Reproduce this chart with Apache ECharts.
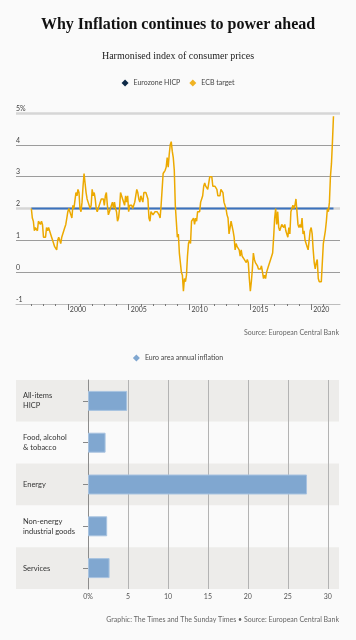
<!DOCTYPE html>
<html>
<head>
<meta charset="utf-8">
<script src="https://cdn.jsdelivr.net/npm/echarts@6/dist/echarts.min.js"></script>
<style>
html,body{margin:0;padding:0;background:#fafafa;}
#c{width:356px;height:640px;}
</style>
</head>
<body>
<div id="c"></div>
<script>
// ---- Data ----
const firstYear = 1997; // monthly values start January 1997
const hicpMonthly = [
  2.0,1.7,1.6,1.3,1.4,1.4,1.3,1.6,1.6,1.5,1.6,1.5,     // 1997
  1.1,1.1,1.1,1.4,1.3,1.4,1.3,1.2,1.1,1.0,0.9,0.8,     // 1998
  0.8,0.7,1.0,1.1,1.0,0.9,1.1,1.2,1.2,1.4,1.5,1.7,     // 1999
  1.9,2.0,2.0,1.8,1.7,2.1,2.0,2.0,2.5,2.4,2.6,2.5,     // 2000
  2.0,1.9,2.2,2.7,3.1,2.8,2.5,2.3,2.2,2.2,2.0,2.1,     // 2001
  2.6,2.4,2.5,2.3,2.0,1.9,1.9,2.1,2.1,2.3,2.3,2.3,     // 2002
  2.1,2.4,2.5,2.1,1.8,1.9,1.9,2.1,2.2,2.0,2.2,2.0,     // 2003
  1.9,1.6,1.7,2.0,2.5,2.4,2.3,2.3,2.1,2.4,2.2,2.4,     // 2004
  1.9,2.1,2.1,2.1,2.0,2.1,2.2,2.2,2.6,2.5,2.3,2.2,     // 2005
  2.4,2.3,2.2,2.5,2.5,2.5,2.4,2.3,1.7,1.6,1.9,1.9,     // 2006
  1.8,1.8,1.9,1.9,1.9,1.9,1.8,1.7,2.1,2.6,3.1,3.1,     // 2007
  3.2,3.3,3.6,3.3,3.7,4.0,4.1,3.8,3.6,3.2,2.1,1.6,     // 2008
  1.1,1.2,0.6,0.6,0.0,-0.1,-0.6,-0.2,-0.3,-0.1,0.5,0.9,// 2009
  1.0,0.9,1.6,1.6,1.7,1.5,1.7,1.6,1.9,1.9,1.9,2.2,     // 2010
  2.3,2.4,2.7,2.8,2.7,2.7,2.6,2.6,3.0,3.0,3.0,2.7,     // 2011
  2.7,2.7,2.7,2.6,2.4,2.4,2.4,2.6,2.6,2.5,2.2,2.2,     // 2012
  2.0,1.8,1.7,1.2,1.4,1.6,1.6,1.3,1.1,0.7,0.9,0.8,     // 2013
  0.8,0.7,0.5,0.7,0.5,0.5,0.4,0.4,0.3,0.4,0.3,-0.2,    // 2014
  -0.6,-0.3,0.1,0.6,0.4,0.3,0.3,0.2,0.1,0.1,0.1,0.2,   // 2015
  0.0,-0.2,-0.1,-0.2,0.0,0.1,0.2,0.2,0.4,0.5,0.6,1.1,  // 2016
  1.7,2.0,1.5,1.9,1.4,1.3,1.3,1.5,1.5,1.4,1.5,1.3,     // 2017
  1.3,1.1,1.4,1.2,1.9,2.0,2.1,2.0,2.1,2.3,1.9,1.5,     // 2018
  1.4,1.5,1.4,1.7,1.2,1.3,1.0,1.0,0.8,0.7,1.0,1.3,     // 2019
  1.4,1.2,0.7,0.3,0.1,0.3,0.4,-0.2,-0.3,-0.3,-0.3,-0.3,// 2020
  0.9,0.9,1.3,1.6,2.0,1.9,2.2,3.0,3.4,4.1,4.9          // 2021 (to Nov)
];
const ecbTarget = 2;
const lineYTicks = [-1, 0, 1, 2, 3, 4, 5];
const yearMinorTicks = [1997,1998,1999,2000,2001,2002,2003,2004,2005,2006,2007,2008,2009,2010,2011,2012,2013,2014,2015,2016,2017,2018,2019,2020,2021];
const yearLabels = [2000, 2005, 2010, 2015, 2020];

const barCategories = ['All-items\nHICP', 'Food, alcohol\n& tobacco', 'Energy', 'Non-energy\nindustrial goods', 'Services'];
const barValues = [4.9, 2.2, 27.4, 2.4, 2.7];
const barTicks = [0, 5, 10, 15, 20, 25, 30];

// ---- Derived series data ----
const hicpData = hicpMonthly.map((v, i) => [firstYear + i / 12, v]);
const lastX = firstYear + (hicpMonthly.length - 1) / 12;
const targetData = [[firstYear, ecbTarget], [lastX, ecbTarget]];

const sans = 'Lato, "Open Sans", sans-serif';
const serif = '"Liberation Serif", "DejaVu Serif", serif';
const xMin = 1995.74, xMax = 2022.37;

const chart = echarts.init(document.getElementById('c'), null, {renderer: 'canvas'});
chart.setOption({
  backgroundColor: '#fafafa',
  animation: false,
  title: [
    {text: 'Why Inflation continues to power ahead', left: 'center', top: 17, padding: 0,
     textStyle: {fontFamily: serif, fontWeight: 'bold', fontSize: 16, color: '#111'}},
    {text: 'Harmonised index of consumer prices', left: 'center', top: 51, padding: 0,
     textStyle: {fontFamily: serif, fontWeight: 'normal', fontSize: 10, color: '#222'}},
    {text: 'Source: European Central Bank', right: 17, top: 329, padding: 0,
     textStyle: {fontFamily: sans, fontWeight: 'normal', fontSize: 7, color: '#666'}},
    {text: 'Graphic: The Times and The Sunday Times • Source: European Central Bank', right: 17, top: 616, padding: 0,
     textStyle: {fontFamily: sans, fontWeight: 'normal', fontSize: 7, color: '#666'}}
  ],
  legend: [
    {top: 79.5, left: 'center', padding: 0, icon: 'diamond', itemWidth: 7, itemHeight: 7, itemGap: 9,
     textStyle: {fontFamily: sans, fontSize: 7, color: '#444'},
     data: [{name: 'Eurozone HICP', itemStyle: {color: '#0e2a47', borderWidth: 0}},
            {name: 'ECB target', itemStyle: {color: '#f0b323', borderWidth: 0}}]},
    {top: 354.5, left: 'center', padding: 0, icon: 'diamond', itemWidth: 7, itemHeight: 7,
     textStyle: {fontFamily: sans, fontSize: 7, color: '#444'},
     data: [{name: 'Euro area annual inflation', itemStyle: {color: '#80a7d0', borderWidth: 0}}]}
  ],
  grid: [
    {left: 16, right: 16, top: 113, height: 191},
    {left: 88, right: 17, top: 380, height: 209},
    {left: 16, right: 17, top: 380, height: 209}
  ],
  xAxis: [
    {gridIndex: 0, type: 'value', min: xMin, max: xMax, position: 'bottom',
     axisLine: {show: true, onZero: false, lineStyle: {color: '#bdbdbd', width: 1}},
     axisTick: {show: true, customValues: yearMinorTicks, length: 2, lineStyle: {color: '#777'}},
     axisLabel: {show: false}, splitLine: {show: false}},
    {gridIndex: 0, type: 'value', min: xMin, max: xMax, position: 'bottom',
     axisLine: {show: false, onZero: false},
     axisTick: {show: true, customValues: yearLabels, length: 6, lineStyle: {color: '#777'}},
     axisLabel: {show: true, customValues: yearLabels, align: 'left', margin: 2, padding: [0, 0, 0, 2],
                 fontFamily: sans, fontSize: 7, color: '#444', formatter: v => String(v)},
     splitLine: {show: false}},
    {gridIndex: 1, type: 'value', min: 0, max: 31.4, interval: 5, z: 1,
     axisLine: {show: false}, axisTick: {show: false},
     axisLabel: {show: true, customValues: barTicks, margin: 4, fontFamily: sans, fontSize: 7, color: '#555',
                 formatter: v => v === 0 ? '0%' : String(v)},
     splitLine: {show: true, showMinLine: false, showMaxLine: false, lineStyle: {color: '#b3b3b3', width: 1}}},
    {gridIndex: 2, type: 'value', min: 0, max: 1, show: true,
     axisLine: {show: false}, axisTick: {show: false}, axisLabel: {show: false}, splitLine: {show: false}}
  ],
  yAxis: [
    {gridIndex: 0, type: 'value', min: lineYTicks[0], max: lineYTicks[lineYTicks.length - 1], interval: 1,
     axisLine: {show: false}, axisTick: {show: false},
     axisLabel: {show: true, inside: true, align: 'left', verticalAlign: 'bottom', margin: 0, padding: [0, 0, 1, 0],
                 fontFamily: sans, fontSize: 7, color: '#444',
                 formatter: v => v === 5 ? '5%' : String(v)},
     splitLine: {show: true, lineStyle: {width: 1,
       color: ['rgba(0,0,0,0)', '#9c9c9c', '#9c9c9c', 'rgba(0,0,0,0)', '#9c9c9c', '#9c9c9c', 'rgba(0,0,0,0)']}}},
    {gridIndex: 1, type: 'category', data: barCategories, inverse: true, z: 1,
     axisLine: {show: true, lineStyle: {color: '#8c8c8c', width: 1}},
     axisTick: {show: true, alignWithLabel: true, length: 5, lineStyle: {color: '#888'}},
     axisLabel: {show: true, align: 'left', margin: 65, fontFamily: sans, fontSize: 7.5, lineHeight: 10, color: '#333'},
     splitLine: {show: false}, splitArea: {show: false}},
    {gridIndex: 2, type: 'category', data: barCategories, inverse: true, z: -1,
     axisLine: {show: false}, axisTick: {show: false}, axisLabel: {show: false},
     splitLine: {show: false},
     splitArea: {show: true, areaStyle: {color: ['#edecea', '#fafafa']}}}
  ],
  series: [
    {name: 'ECB target', type: 'line', xAxisIndex: 0, yAxisIndex: 0, data: targetData,
     showSymbol: false, symbol: 'none', z: 3,
     lineStyle: {color: '#3b72bd', width: 2}, itemStyle: {color: '#f0b323'},
     markLine: {silent: true, symbol: 'none', z: 1, label: {show: false},
                lineStyle: {color: '#d6d6d6', width: 2.5, type: 'solid'},
                data: [{yAxis: 5}, {yAxis: ecbTarget}]}},
    {name: 'Eurozone HICP', type: 'line', xAxisIndex: 0, yAxisIndex: 0, data: hicpData,
     showSymbol: false, symbol: 'none', z: 4,
     lineStyle: {color: '#eca900', width: 1.5}, itemStyle: {color: '#0e2a47'}},
    {name: 'Euro area annual inflation', type: 'bar', xAxisIndex: 2, yAxisIndex: 1, data: barValues,
     barWidth: 20, z: 2,
     itemStyle: {color: '#80a7d0', borderColor: '#a8c3e0', borderWidth: 1}}
  ]
});
</script>
</body>
</html>
